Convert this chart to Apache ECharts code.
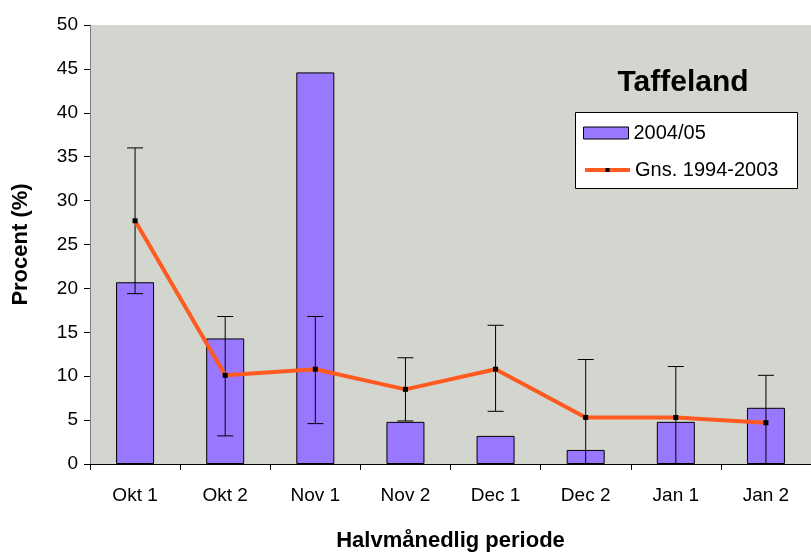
<!DOCTYPE html>
<html>
<head>
<meta charset="utf-8">
<script src="https://cdn.jsdelivr.net/npm/echarts@6/dist/echarts.min.js"></script>
<style>
  html, body { margin: 0; padding: 0; background: #fff; }
</style>
</head>
<body>
<div id="main" style="width: 811px;height:554px;"></div>
<script type="text/javascript">
    // data
    var categories = ['Okt 1', 'Okt 2', 'Nov 1', 'Nov 2', 'Dec 1', 'Dec 2', 'Jan 1', 'Jan 2'];
    var season = [20.7, 14.3, 44.6, 4.8, 3.2, 1.6, 4.8, 6.4];
    var average = [27.7, 10.1, 10.8, 8.5, 10.8, 5.3, 5.3, 4.7];
    var errHigh = [36.0, 16.8, 16.8, 12.1, 15.8, 11.9, 11.1, 10.1];
    var errLow = [19.4, 3.2, 4.6, 4.9, 6.0, -1.3, -0.5, -0.7];
    var yTicks = [0, 5, 10, 15, 20, 25, 30, 35, 40, 45, 50];

    var font = "'Liberation Sans', Arial, sans-serif";

    var errData = [];
    for (var i = 0; i < categories.length; i++) {
        errData.push([i, errLow[i], errHigh[i]]);
    }

    var myChart = echarts.init(document.getElementById('main'));

    var legendText = {fontFamily: font, fontSize: 20, color: '#000', lineHeight: 20};

    var option = {
        animation: false,
        backgroundColor: '#ffffff',
        title: {
            text: 'Taffeland',
            left: 678,
            top: 63,
            textAlign: 'center',
            textStyle: {fontFamily: font, fontSize: 30, fontWeight: 'bold', color: '#000'}
        },
        // legend box
        graphic: [{
            type: 'rect',
            left: 575,
            top: 112,
            z: 10,
            shape: {width: 222, height: 76},
            style: {fill: '#ffffff', stroke: '#000', lineWidth: 1}
        }],
        legend: [{
            left: 583,
            top: 123,
            padding: 0,
            z: 11,
            itemWidth: 45,
            itemHeight: 12,
            itemTextGap: 9,
            itemStyle: {borderWidth: 1, borderColor: '#000'},
            textStyle: legendText,
            data: [{name: '2004/05', icon: 'rect'}]
        }, {
            left: 583,
            top: 160,
            padding: 0,
            z: 11,
            itemWidth: 45,
            itemHeight: 5,
            itemTextGap: 9,
            lineStyle: {width: 4},
            textStyle: legendText,
            data: ['Gns. 1994-2003']
        }],
        grid: {
            left: 90,
            right: 0,
            top: 25,
            bottom: 90,
            containLabel: false,
            outerBoundsMode: 'none',
            show: true,
            backgroundColor: '#D3D5CF',
            borderWidth: 0
        },
        xAxis: {
            type: 'category',
            data: categories,
            name: 'Halvmånedlig periode',
            nameLocation: 'middle',
            nameGap: 66,
            nameTextStyle: {fontFamily: font, fontSize: 22, fontWeight: 'bold', color: '#000'},
            axisLine: {lineStyle: {color: '#000', width: 1}},
            axisTick: {show: true, length: 6, lineStyle: {color: '#000'}},
            axisLabel: {fontFamily: font, fontSize: 19, color: '#000', margin: 22},
            splitLine: {show: false}
        },
        yAxis: {
            type: 'value',
            min: yTicks[0],
            max: yTicks[yTicks.length - 1],
            interval: 5,
            name: 'Procent (%)',
            nameLocation: 'middle',
            nameGap: 58,
            nameTextStyle: {fontFamily: font, fontSize: 22, fontWeight: 'bold', color: '#000'},
            axisLine: {show: true, lineStyle: {color: '#808080', width: 1}},
            axisTick: {show: true, length: 6, lineStyle: {color: '#000'}},
            axisLabel: {fontFamily: font, fontSize: 19, color: '#000', margin: 12},
            splitLine: {show: false}
        },
        series: [
            {
                name: '2004/05',
                type: 'bar',
                data: season,
                barWidth: 38,
                z: 1,
                itemStyle: {color: '#9977FF', borderColor: '#000', borderWidth: 1}
            },
            {
                name: 'errors',
                type: 'custom',
                z: 2,
                data: errData,
                encode: {x: 0, y: [1, 2]},
                renderItem: function (params, api) {
                    var idx = api.value(0);
                    var hi = api.coord([idx, api.value(2)]);
                    var lo = api.coord([idx, api.value(1)]);
                    var zero = api.coord([idx, 0]);
                    var half = 8;
                    var children = [];
                    var bottomY = lo[1];
                    var clipped = false;
                    if (bottomY > zero[1]) {
                        bottomY = zero[1];
                        clipped = true;
                    }
                    var st = {stroke: '#000', lineWidth: 1};
                    children.push({type: 'line', shape: {x1: hi[0], y1: hi[1], x2: hi[0], y2: bottomY}, style: st});
                    children.push({type: 'line', shape: {x1: hi[0] - half, y1: hi[1], x2: hi[0] + half, y2: hi[1]}, style: st});
                    if (!clipped) {
                        children.push({type: 'line', shape: {x1: lo[0] - half, y1: lo[1], x2: lo[0] + half, y2: lo[1]}, style: st});
                    }
                    return {type: 'group', children: children};
                }
            },
            {
                name: 'Gns. 1994-2003',
                type: 'line',
                data: average,
                z: 3,
                symbol: 'rect',
                symbolSize: 5,
                showAllSymbol: true,
                lineStyle: {color: '#FF5A1F', width: 4},
                itemStyle: {color: '#000', borderWidth: 0}
            }
        ]
    };

    myChart.setOption(option);
</script>
</body>
</html>
